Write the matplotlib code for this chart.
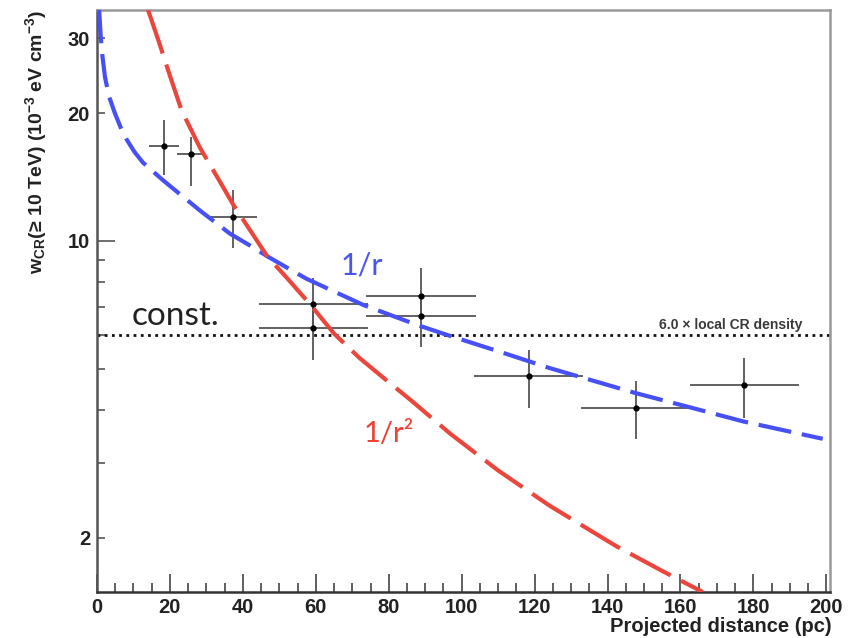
import matplotlib
matplotlib.use('Agg')
import matplotlib.pyplot as plt
import matplotlib.ticker as mticker
import numpy as np

plt.rcParams['font.family'] = ['Liberation Sans', 'DejaVu Sans']
plt.rcParams['font.weight'] = 'bold'
plt.rcParams['axes.labelweight'] = 'bold'
plt.rcParams['mathtext.fontset'] = 'custom'
plt.rcParams['mathtext.rm'] = 'Liberation Sans:bold'
plt.rcParams['mathtext.it'] = 'Liberation Sans:bold'
plt.rcParams['mathtext.bf'] = 'Liberation Sans:bold'
plt.rcParams['mathtext.default'] = 'rm'

# measured CR energy density per region
dist = [18.4, 25.7, 37.4, 59.3, 59.3, 88.8, 88.8, 118.4, 147.8, 177.5]
dist_err = [4.1, 3.8, 6.5, 15, 15, 15, 15, 15, 15, 15]
w_cr = [16.7, 16.0, 11.4, 7.10, 6.23, 7.42, 6.67, 4.80, 4.04, 4.57]
w_lo = [14.3, 13.5, 9.61, 6.15, 5.25, 6.5, 5.62, 4.04, 3.42, 3.82]
w_hi = [19.3, 17.6, 13.2, 8.18, 7.2, 8.62, 7.6, 5.55, 4.69, 5.30]

# profile curves
r_prof_1 = [0.6, 1.0, 1.5, 2.2, 3.3, 4.9, 6.5, 8.2, 10.3, 12.6, 18.1, 28.2,
            36.5, 42.0, 47.0, 57.4, 73.0, 87.6, 96.7, 110.0, 124.1, 147.8,
            163.4, 177.1, 199.0]
w_prof_1 = [35, 30.5, 27.2, 24.3, 21.9, 20.0, 18.5, 17.3, 16.2, 15.3, 13.9, 11.8,
            10.4, 9.75, 9.17, 8.15, 7.07, 6.35, 5.98, 5.5, 5.02, 4.38,
            4.04, 3.76, 3.42]
r_prof_2 = [14.0, 17.0, 20.0, 23.2, 28.2, 33.7, 37.3, 46.8, 52.0, 58.4, 65.0,
            72.0, 80.0, 86.3, 96.8, 110.0, 124.1, 142.4, 155.0, 166.1]
w_prof_2 = [35, 29.4, 24.5, 20.3, 16.6, 13.8, 12.2, 9.17, 8.2, 7.1, 6.05,
            5.3, 4.65, 4.2, 3.52, 2.88, 2.38, 1.91, 1.67, 1.49]

local_level = 6.0

fig = plt.figure(figsize=(8.52, 6.38), dpi=100)
ax = fig.add_axes([97 / 852, 46 / 638, 733 / 852, 582 / 638])

ax.axhline(local_level, color='#111111', lw=2.0, linestyle=(0, (1, 1.6)), zorder=2)
ax.text(193.4, 6.1, '6.0 × local CR density', fontsize=10, fontweight='bold',
        color='#3a3a3a', ha='right', va='bottom')

yerr = [np.array(w_cr) - np.array(w_lo), np.array(w_hi) - np.array(w_cr)]
ax.errorbar(dist, w_cr, xerr=dist_err, yerr=yerr, fmt='o', color='black',
            ecolor='#555555', elinewidth=1.3, markersize=3.5, capsize=0, zorder=3)

ax.plot(r_prof_1, w_prof_1, color='#4650f5', lw=3.0, linestyle=(0, (8, 2.6)),
        zorder=4)
ax.plot(r_prof_2, w_prof_2, color='#eb463c', lw=3.0, linestyle=(0, (11, 2.8)),
        zorder=5)

ax.text(9.5, 6.34, 'const.', family='Lato', fontweight='normal', fontsize=24,
        color='#222222', va='baseline')
ax.text(66.7, 8.32, '1/r', family='Lato', fontweight='normal', fontsize=22,
        color='#4a55f0', va='baseline')
ax.text(73, 3.37, '1/r²', family='Lato', fontweight='normal', fontsize=21,
        color='#ee4035', va='baseline')

ax.set_yscale('log')
ax.set_xlim(0, 201)
ax.set_ylim(1.49, 35)

ax.xaxis.set_major_locator(mticker.MultipleLocator(20))
ax.xaxis.set_minor_locator(mticker.MultipleLocator(5))
ax.yaxis.set_major_locator(mticker.FixedLocator([10]))
ax.yaxis.set_major_formatter(mticker.FixedFormatter(['10']))
ax.yaxis.set_minor_locator(mticker.FixedLocator([2, 3, 4, 5, 6, 7, 8, 9, 20, 30]))
ax.yaxis.set_minor_formatter(mticker.FuncFormatter(
    lambda v, pos: '%d' % v if round(v) in (2, 20, 30) else ''))

ax.tick_params(axis='x', which='major', direction='in', length=13, width=1.2,
               color='#444444', labelsize=14.5, pad=4, labelcolor='#222222')
ax.tick_params(axis='x', which='minor', direction='in', length=6.5, width=1.2,
               color='#444444')
ax.tick_params(axis='y', which='major', direction='in', length=13, width=1.2,
               color='#555555', labelsize=14.5, pad=5, labelcolor='#222222')
ax.tick_params(axis='y', which='minor', direction='in', length=5.5, width=1.2,
               color='#555555', labelsize=14.5, pad=5, labelcolor='#222222')

for side in ['top', 'right']:
    ax.spines[side].set_color('#999999')
    ax.spines[side].set_linewidth(1.8)
ax.spines['left'].set_color('#555555')
ax.spines['left'].set_linewidth(1.8)
ax.spines['bottom'].set_color('#333333')
ax.spines['bottom'].set_linewidth(1.8)

ax.set_ylabel('w$_{CR}$(≥ 10 TeV) (10$^{-3}$ eV cm$^{-3}$)', fontsize=14,
              fontweight='bold', color='#222222', loc='top')
ax.yaxis.set_label_coords(-0.066, 1.0)

fig.text(832 / 852, 1 - 617 / 638, 'Projected distance (pc)', fontsize=14.5,
         color='#222222', ha='right', va='top')

fig.savefig('out.png', dpi=100)
